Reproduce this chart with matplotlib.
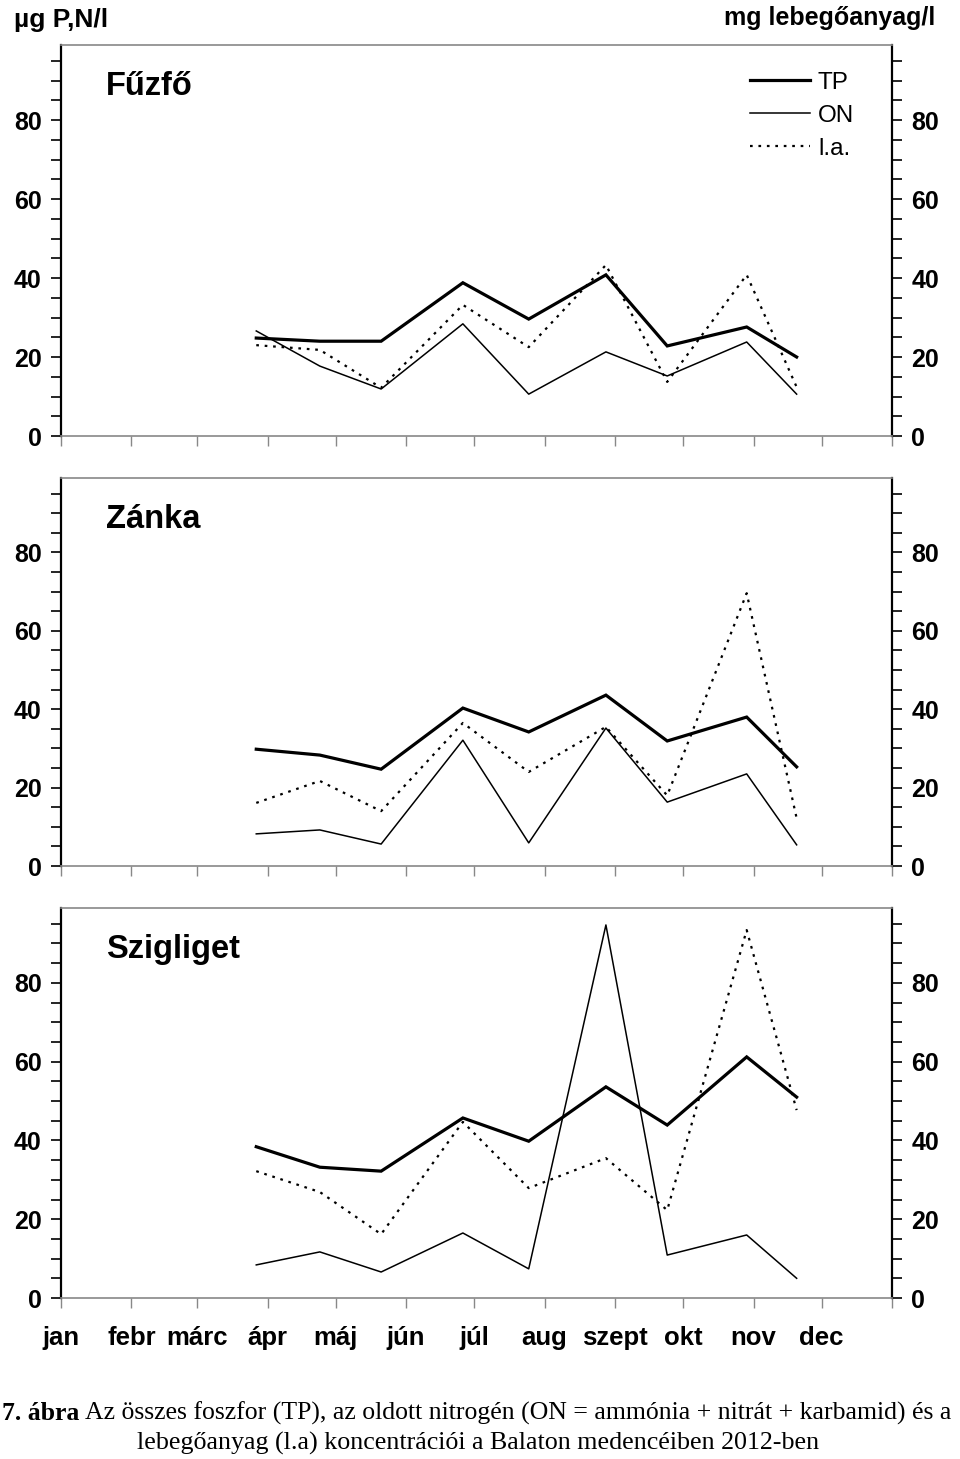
import matplotlib
matplotlib.use("Agg")
from matplotlib import pyplot as plt
from matplotlib.ticker import MultipleLocator

plt.rcParams["font.family"] = ["Liberation Sans", "DejaVu Sans"]

# sampling dates (day of year, 2012) and month starts
sample_days = [86, 114, 141, 177, 206, 240, 267, 302, 324]
month_starts = [0, 31, 60, 91, 121, 152, 182, 213, 244, 274, 305, 335, 366]
month_labels = ["jan", "febr", "márc", "ápr", "máj", "jún", "júl",
                "aug", "szept", "okt", "nov", "dec"]

stations = ["Fűzfő", "Zánka", "Szigliget"]

# Fűzfő
fuzfo_tp = [24.8, 24.0, 24.0, 38.8, 29.6, 40.8, 22.8, 27.6, 20.0]
fuzfo_on = [26.6, 17.7, 11.9, 28.4, 10.6, 21.3, 15.2, 23.8, 10.6]
fuzfo_la = [23.0, 21.8, 12.2, 33.2, 22.5, 43.3, 13.7, 40.8, 12.4]

# Zánka
zanka_tp = [29.8, 28.3, 24.7, 40.3, 34.2, 43.6, 31.9, 38.0, 25.3]
zanka_on = [8.2, 9.2, 5.6, 32.1, 5.9, 35.2, 16.3, 23.5, 5.4]
zanka_la = [16.1, 21.7, 14.0, 36.5, 24.0, 35.5, 18.0, 69.6, 12.2]

# Szigliget
szig_tp = [38.4, 33.2, 32.2, 45.7, 39.8, 53.6, 43.9, 61.2, 51.0]
szig_on = [8.4, 11.7, 6.6, 16.5, 7.4, 94.7, 10.9, 16.0, 5.0]
szig_la = [32.2, 26.9, 16.2, 44.7, 27.9, 35.5, 22.3, 93.4, 47.7]

tp_series = [fuzfo_tp, zanka_tp, szig_tp]
on_series = [fuzfo_on, zanka_on, szig_on]
la_series = [fuzfo_la, zanka_la, szig_la]

W, H = 960, 1459
fig = plt.figure(figsize=(W / 100, H / 100), dpi=100)

panel_px = [(45, 436), (478, 866), (908, 1298)]
left_px, right_px = 61, 892

for i, (top, bottom) in enumerate(panel_px):
    ax = fig.add_axes([left_px / W, 1 - bottom / H,
                       (right_px - left_px) / W, (bottom - top) / H])
    ax.plot(sample_days, tp_series[i], color="black", lw=2.3,
            solid_joinstyle="miter", label="TP")
    ax.plot(sample_days, on_series[i], color="black", lw=1.1, label="ON")
    ax.plot(sample_days, la_series[i], color="black", lw=1.6,
            linestyle=(0, (1.2, 2.6)), label="l.a.")

    ax.set_xlim(0, 366)
    ax.set_ylim(0, 99)
    ax.yaxis.set_minor_locator(MultipleLocator(5))
    ax.set_yticks([0, 20, 40, 60, 80])
    ax.tick_params(axis="y", which="both", direction="out", length=7,
                   width=1.2, left=True, right=True,
                   labelleft=True, labelright=True, labelsize=18)
    ax.tick_params(axis="y", which="major", pad=7)
    for lab in ax.get_yticklabels(which="major"):
        lab.set_fontweight("bold")

    if i == 2:
        ax.set_xticks(month_starts, labels=month_labels + [""])
    else:
        ax.set_xticks(month_starts, labels=[""] * len(month_starts))
    ax.tick_params(axis="x", direction="out", length=7, width=1,
                   color="#888888", labelsize=18.5, pad=13.5)
    for lab in ax.get_xticklabels():
        lab.set_fontweight("bold")

    ax.spines["left"].set_linewidth(1.6)
    ax.spines["right"].set_linewidth(1.6)
    for side in ["top", "bottom"]:
        ax.spines[side].set_color("#888888")
        ax.spines[side].set_linewidth(1.2)

    ax.text(0.054, 0.893, stations[i], transform=ax.transAxes,
            fontsize=23.5, fontweight="bold", va="center", ha="left")

    if i == 0:
        ax.legend(loc="upper left", bbox_to_anchor=(0.829, 0.932),
                  frameon=False, fontsize=17.5, handlelength=2.47,
                  handletextpad=0.33, labelspacing=0.45,
                  borderpad=0, borderaxespad=0)

fig.text(14 / W, 1 - 20 / H, "µg P,N/l", fontsize=19, fontweight="bold",
         va="center", ha="left")
fig.text(935 / W, 1 - 18 / H, "mg lebegőanyag/l", fontsize=18,
         fontweight="bold", va="center", ha="right")

# caption
serif = ["Liberation Serif", "DejaVu Serif"]
t1 = fig.text(2 / W, 1 - 1413 / H, "7. ábra", fontsize=18.5,
              fontweight="bold", family=serif, va="center", ha="left")
fig.canvas.draw()
bb = t1.get_window_extent()
fig.text(bb.x1 / W + 6 / W, 1 - 1413 / H,
         "Az összes foszfor (TP), az oldott nitrogén (ON = ammónia + nitrát + karbamid) és a",
         fontsize=18.5, family=serif, va="center", ha="left")
fig.text(478 / W, 1 - 1443 / H,
         "lebegőanyag (l.a) koncentrációi a Balaton medencéiben 2012-ben",
         fontsize=18.7, family=serif, va="center", ha="center")

fig.savefig("out.png", dpi=100)
